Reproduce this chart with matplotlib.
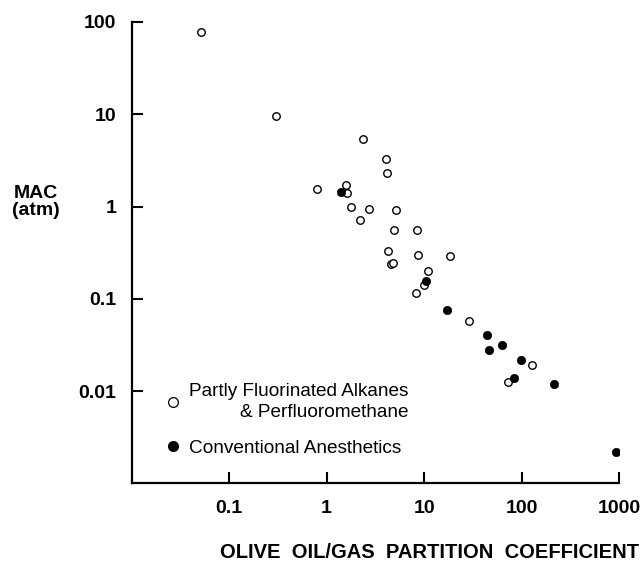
import matplotlib
matplotlib.use("Agg")
import matplotlib.pyplot as plt
from matplotlib.lines import Line2D
from matplotlib.ticker import NullLocator

plt.rcParams['font.family'] = ['Liberation Sans', 'DejaVu Sans']

# partly fluorinated alkanes & perfluoromethane (open symbols)
open_x = [0.052, 0.30, 2.36, 4.06, 4.13, 0.80, 1.57, 1.63, 1.79, 2.74, 5.15, 2.21,
          4.87, 8.46, 4.23, 8.72, 18.4, 4.6, 4.85, 10.96, 9.9, 8.32, 28.9, 129, 72.7]
open_y = [77, 9.5, 5.4, 3.26, 2.32, 1.54, 1.71, 1.41, 1.0, 0.94, 0.92, 0.71,
          0.56, 0.56, 0.33, 0.298, 0.288, 0.236, 0.242, 0.20, 0.142, 0.116, 0.0575, 0.019, 0.0126]

# conventional anesthetics (filled symbols)
fill_x = [1.41, 10.4, 17.1, 44.6, 63, 46, 99.5, 84.4, 217, 940]
fill_y = [1.44, 0.157, 0.076, 0.041, 0.0316, 0.0279, 0.0216, 0.014, 0.012, 0.0022]

xticks = [0.1, 1, 10, 100, 1000]
xlabels = ['0.1', '1', '10', '100', '1000']
yticks = [0.01, 0.1, 1, 10, 100]
ylabels = ['0.01', '0.1', '1', '10', '100']

fig = plt.figure(figsize=(6.43, 5.67), dpi=100)
ax = fig.add_axes([0.2048, 0.1476, 0.7579, 0.8136])

ax.plot(open_x, open_y, 'o', ms=5.4, mfc='white', mec='black', mew=1.0, ls='none')
ax.plot(fill_x, fill_y, 'o', ms=6, mfc='black', mec='black', mew=0.5, ls='none')

ax.set_xscale('log')
ax.set_yscale('log')
ax.set_xlim(0.01, 1000)
ax.set_ylim(0.001, 100)

for s in ['top', 'right']:
    ax.spines[s].set_visible(False)
for s in ['left', 'bottom']:
    ax.spines[s].set_linewidth(1.6)

ax.set_xticks(xticks)
ax.set_xticklabels(xlabels)
ax.set_yticks(yticks)
ax.set_yticklabels(ylabels)
ax.xaxis.set_minor_locator(NullLocator())
ax.yaxis.set_minor_locator(NullLocator())
ax.tick_params(axis='both', direction='in', length=8, width=1.5)
ax.tick_params(axis='x', pad=12)
ax.tick_params(axis='y', pad=11)
for t in ax.get_xticklabels() + ax.get_yticklabels():
    t.set_fontweight('bold')
    t.set_fontsize(14)

fig.text(36 / 643, 1 - 202 / 567, 'MAC\n(atm)', ha='center', va='center',
         fontweight='bold', fontsize=14, multialignment='center', linespacing=1.0)
fig.text(430 / 643, 1 - 553 / 567, 'OLIVE  OIL/GAS  PARTITION  COEFFICIENT',
         ha='center', va='center', fontweight='bold', fontsize=14.5)

handles = [
    Line2D([], [], marker='o', ls='none', ms=7, mfc='white', mec='black', mew=0.9),
    Line2D([], [], marker='o', ls='none', ms=7, mfc='black', mec='black'),
]
leg = ax.legend(handles, ['Partly Fluorinated Alkanes\n& Perfluoromethane',
                          'Conventional Anesthetics'],
                loc='upper left', bbox_to_anchor=(0.03, 0.254), frameon=False,
                fontsize=13.7, handletextpad=0.35, labelspacing=1.0, handlelength=1.0)
for t in leg.get_texts():
    t.set_multialignment('right')
    t.set_linespacing(1.25)

fig.savefig('out.png', dpi=100)
